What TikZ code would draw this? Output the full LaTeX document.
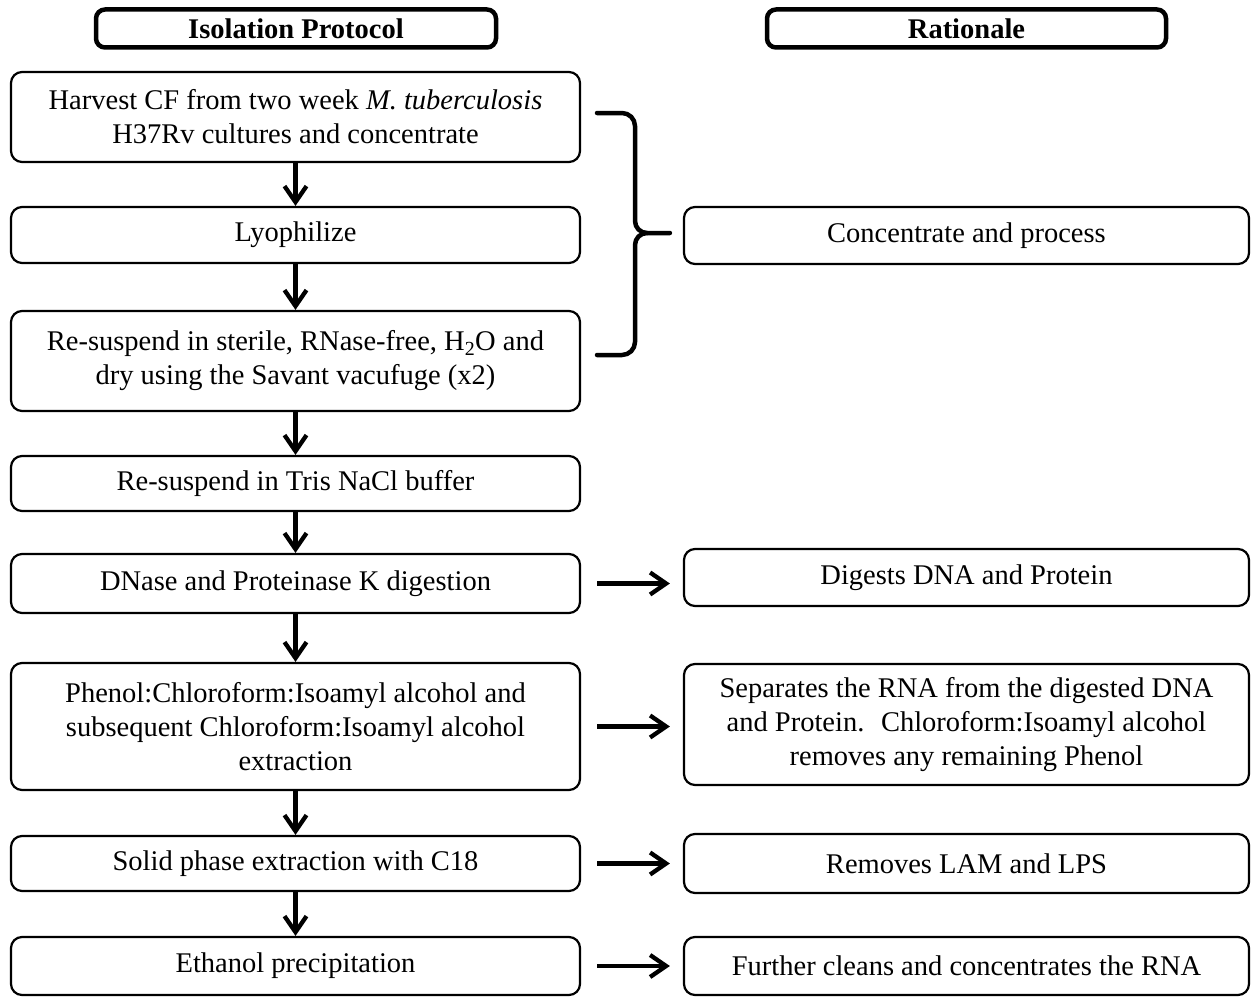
\documentclass[tikz,border=0pt]{standalone}
\usepackage{fontspec}
\setmainfont{Liberation Serif}
\usetikzlibrary{arrows.meta}
\begin{document}
\begin{tikzpicture}[x=1pt,y=-1pt,
  every node/.style={font=\fontsize{28.5}{34}\selectfont},
  hdr/.style={draw, line width=4.5pt, rounded corners=9pt, minimum height=38pt, inner sep=0pt, font=\fontsize{28.5}{34}\selectfont\bfseries},
  lbox/.style={draw, line width=2.2pt, rounded corners=11pt, minimum width=569pt, align=center, inner sep=0pt},
  rbox/.style={lbox, minimum width=565pt},
  varr/.style={line width=4.3pt, -{Straight Barb[length=16pt,width=22pt]}},
  harr/.style={varr, shorten <=16pt, shorten >=13pt},
  bracestyle/.style={line width=4.5pt, line cap=round, line join=round}
]
\useasboundingbox (0,0) rectangle (1253,998);

% headers
\node[hdr, minimum width=400pt] (h1) at (296,28.5) {Isolation Protocol};
\node[hdr, minimum width=399pt] (h2) at (966.5,28.5) {Rationale};

% left column
\node[lbox, minimum height=90pt] (b1) at (295.5,117) {Harvest CF from two week \textit{M. tuberculosis}\\H37Rv cultures and concentrate};
\node[lbox, minimum height=56pt] (b2) at (295.5,235) {Lyophilize};
\node[lbox, minimum height=100pt] (b3) at (295.5,361) {Re-suspend in sterile, RNase-free, H\textsubscript{2}O and\\dry using the Savant vacufuge (x2)};
\node[lbox, minimum height=55pt] (b4) at (295.5,483.5) {Re-suspend in Tris NaCl buffer};
\node[lbox, minimum height=59pt] (b5) at (295.5,583.5) {DNase and Proteinase K digestion};
\node[lbox, minimum height=127pt] (b6) at (295.5,726.5) {Phenol:Chloroform:Isoamyl alcohol and\\subsequent Chloroform:Isoamyl alcohol\\extraction};
\node[lbox, minimum height=55pt] (b7) at (295.5,863.5) {Solid phase extraction with C18};
\node[lbox, minimum height=58pt] (b8) at (295.5,966) {Ethanol precipitation};

% right column
\node[rbox, minimum height=57pt] (r1) at (966.5,235.5) {Concentrate and process};
\node[rbox, minimum height=57pt] (r2) at (966.5,577.5) {Digests DNA and Protein};
\node[rbox, minimum height=121pt] (r3) at (966.5,724.5) {Separates the RNA from the digested DNA\\and Protein.~ Chloroform:Isoamyl alcohol\\removes any remaining Phenol};
\node[rbox, minimum height=59pt] (r4) at (966.5,863.5) {Removes LAM and LPS};
\node[rbox, minimum height=58pt] (r5) at (966.5,966) {Further cleans and concentrates the RNA};

% vertical arrows
\draw[varr] (b1) -- (b2);
\draw[varr] (b2) -- (b3);
\draw[varr] (b3) -- (b4);
\draw[varr] (b4) -- (b5);
\draw[varr] (b5) -- (b6);
\draw[varr] (b6) -- (b7);
\draw[varr] (b7) -- (b8);

% horizontal arrows
\draw[harr] (b5.east) -- (b5.east -| r2.west);
\draw[harr] (b6.east) -- (b6.east -| r3.west);
\draw[harr] (b7.east) -- (b7.east -| r4.west);
\draw[harr] (b8.east) -- (b8.east -| r5.west);

% brace
\coordinate (btop) at (597,113);
\coordinate (bbot) at (597,355);
\coordinate (btip) at ([xshift=-13pt]r1.west |- 0,233);
\draw[bracestyle] (btop) -- (622,113) to[out=0,in=90] (635,126) -- (635,221)
  to[out=270,in=180] (647,233) -- (btip);
\draw[bracestyle] (647,233) to[out=180,in=90] (635,245) -- (635,342)
  to[out=270,in=0] (622,355) -- (bbot);
\end{tikzpicture}
\end{document}
